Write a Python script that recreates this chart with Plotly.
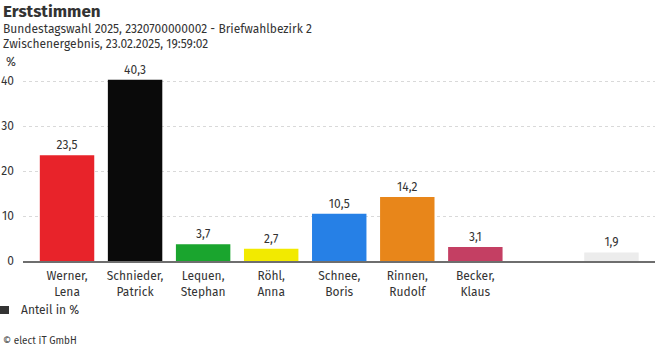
import plotly.graph_objects as go

categories = ["Werner,<br>Lena", "Schnieder,<br>Patrick", "Lequen,<br>Stephan", "Röhl,<br>Anna",
              "Schnee,<br>Boris", "Rinnen,<br>Rudolf", "Becker,<br>Klaus", "", ""]
values = [23.5, 40.3, 3.7, 2.7, 10.5, 14.2, 3.1, None, 1.9]
colors = ["#e8232a", "#0a0a0a", "#1aa52e", "#f2ea00", "#2680e6", "#e8861a", "#c43f63", "#ffffff", "#ececec"]
y_ticks = [0, 10, 20, 30, 40]

FONT = "Fira Sans, Open Sans, sans-serif"
W, H = 656, 352
ML, MR, MT, MB = 23, 1, 76, 91
xs = list(range(len(categories)))

fig = go.Figure()
fig.add_trace(go.Bar(
    x=xs, y=values, marker=dict(color=colors, line=dict(width=0)),
    width=0.8, texttemplate="%{y:.1f}", textposition="outside", cliponaxis=False,
    textfont=dict(size=12, color="#333333", family=FONT), showlegend=False,
    hoverinfo="skip",
))

fig.update_layout(
    width=W, height=H,
    margin=dict(l=ML, r=MR, t=MT, b=MB),
    plot_bgcolor="white", paper_bgcolor="white",
    separators=",.",
    font=dict(family=FONT, size=12, color="#333333"),
    xaxis=dict(range=[-0.647, 8.64], tickmode="array", tickvals=xs, ticktext=categories,
               showgrid=False, showline=True, linecolor="#6e6e6e", linewidth=1.5,
               ticks="", ticklabelstandoff=3,
               tickfont=dict(size=12, color="#333333"), fixedrange=True),
    yaxis=dict(range=[0, (H - MT - MB) / 4.5], tickmode="array", tickvals=y_ticks,
               showgrid=True, gridcolor="#d9d9d9", griddash="3px,3px", gridwidth=1,
               zeroline=False, showline=False, ticks="", ticklabelstandoff=8,
               tickfont=dict(size=12, color="#333333"), fixedrange=True),
)


def fx(px):
    return (px - ML) / (W - ML - MR)


def fy(py):
    return (H - MB - py) / (H - MT - MB)


texts = [
    ("<b>Erststimmen</b>", 1, 11, 17),
    ("Bundestagswahl 2025, 2320700000002 - Briefwahlbezirk 2", 1, 29, 12),
    ("Zwischenergebnis, 23.02.2025, 19:59:02", 1, 44, 12),
    ("%", 4, 62, 12),
    ("Anteil in %", 19, 310, 12),
    ("© elect iT GmbH", 1, 341, 10),
]
for text, px, py, size in texts:
    fig.add_annotation(text=text, x=fx(px), y=fy(py), xref="paper", yref="paper",
                       showarrow=False, xanchor="left", yanchor="middle",
                       font=dict(size=size, color="#333333", family=FONT))

fig.add_shape(type="rect", xref="paper", yref="paper",
              x0=fx(0), x1=fx(9), y0=fy(306), y1=fy(314),
              fillcolor="#333333", line=dict(width=0))

fig.write_html("out.html")
